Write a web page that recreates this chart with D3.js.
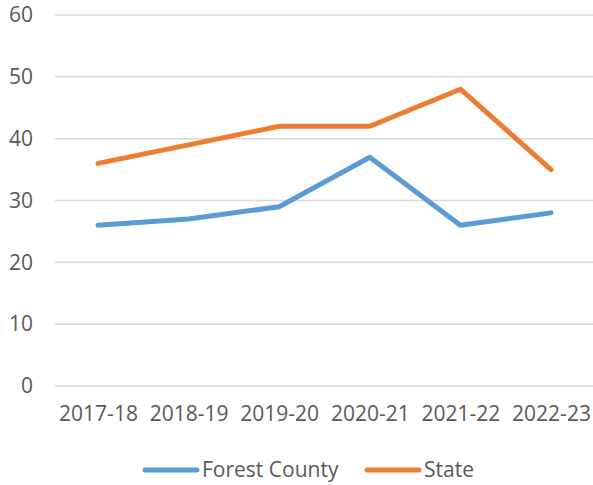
<!DOCTYPE html>
<html>
<head>
<meta charset="utf-8">
<script src="https://d3js.org/d3.v7.min.js"></script>
<style>
  body { margin: 0; background: #fff; }
  text { font-family: "Open Sans", sans-serif; fill: #595959; }
</style>
</head>
<body>
<script>
// data
var years = ["2017-18", "2018-19", "2019-20", "2020-21", "2021-22", "2022-23"];
var forestCounty = [26, 27, 29, 37, 26, 28];
var state = [36, 39, 42, 42, 48, 35];
var yTicks = [0, 10, 20, 30, 40, 50, 60];
var seriesNames = ["Forest County", "State"];
var seriesColors = ["#5B9BD5", "#ED7D31"];

var width = 593, height = 485;

var svg = d3.select("body").append("svg")
  .attr("width", width)
  .attr("height", height);

var x = d3.scalePoint()
  .domain(years)
  .range([98, 551]);

var y = d3.scaleLinear()
  .domain([0, 60])
  .range([386, 15]);

// gridlines
svg.append("g")
  .selectAll("line")
  .data(yTicks)
  .enter()
  .append("line")
  .attr("x1", 55)
  .attr("x2", 593)
  .attr("y1", function(d) { return y(d); })
  .attr("y2", function(d) { return y(d); })
  .attr("stroke", "#d9d9d9")
  .attr("stroke-width", 1.5);

// y axis labels
var yAxis = d3.axisLeft(y).tickValues(yTicks).tickSize(0).tickPadding(0);
var gy = svg.append("g")
  .attr("transform", "translate(33,0)")
  .call(yAxis);
gy.select(".domain").remove();
gy.selectAll("text")
  .attr("font-size", 21)
  .attr("fill", "#595959")
  .attr("font-family", "Open Sans, sans-serif");

// x axis labels
var xAxis = d3.axisBottom(x).tickSize(0).tickPadding(0);
var gx = svg.append("g")
  .attr("transform", "translate(0,406)")
  .call(xAxis);
gx.select(".domain").remove();
gx.selectAll("text")
  .attr("font-size", 21)
  .attr("fill", "#595959")
  .attr("font-family", "Open Sans, sans-serif");

// lines
var line = d3.line()
  .x(function(d, i) { return x(years[i]); })
  .y(function(d) { return y(d); });

[forestCounty, state].forEach(function(s, i) {
  svg.append("path")
    .datum(s)
    .attr("d", line)
    .attr("fill", "none")
    .attr("stroke", seriesColors[i])
    .attr("stroke-width", 5)
    .attr("stroke-linejoin", "round")
    .attr("stroke-linecap", "round");
});

// legend
var legendX = [145, 367];
var legend = svg.append("g");
seriesNames.forEach(function(name, i) {
  legend.append("line")
    .attr("x1", legendX[i])
    .attr("x2", legendX[i] + 52)
    .attr("y1", 470)
    .attr("y2", 470)
    .attr("stroke", seriesColors[i])
    .attr("stroke-width", 5)
    .attr("stroke-linecap", "round");
  legend.append("text")
    .attr("x", legendX[i] + 57)
    .attr("y", 470)
    .attr("dy", "0.35em")
    .attr("font-size", 21)
    .text(name);
});
</script>
</body>
</html>
